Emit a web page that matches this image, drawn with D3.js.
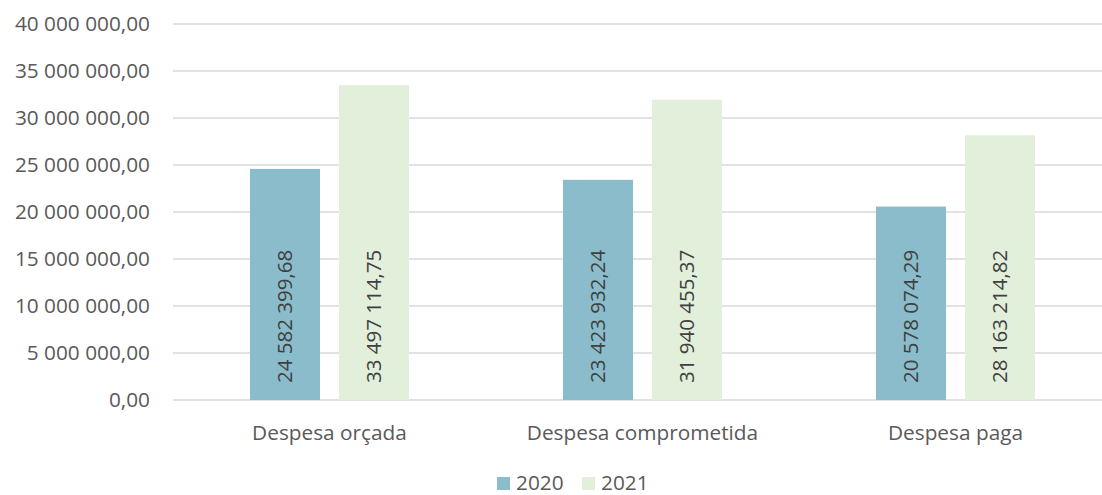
<!DOCTYPE html>
<html>
<head>
<meta charset="utf-8">
<script src="https://cdn.jsdelivr.net/npm/d3@7"></script>
<style>
  body { margin: 0; background: #fff; }
  text { font-family: "Open Sans", sans-serif; }
</style>
</head>
<body>
<div class="chart"></div>
<script>
// chart data
const categories = ["Despesa orçada", "Despesa comprometida", "Despesa paga"]
const years = ["2020", "2021"]
const values2020 = [24582399.68, 23423932.24, 20578074.29]
const values2021 = [33497114.75, 31940455.37, 28163214.82]
const yTicks = [0, 5e6, 10e6, 15e6, 20e6, 25e6, 30e6, 35e6, 40e6]
const colors = ["#8abccb", "#e2efda"]

const w = 1102
const h = 495

const svg = d3.select(".chart")
  .append("svg")
    .attr("width", w)
    .attr("height", h)

// number format "40 000 000,00"
const fmt = v => {
  const parts = v.toFixed(2).split(".")
  return parts[0].replace(/\B(?=(\d{3})+(?!\d))/g, " ") + "," + parts[1]
}

const x0 = d3.scaleBand()
  .domain(categories)
  .range([173, 1112])

const x1 = d3.scaleBand()
  .domain(years)
  .range([0, 159])
  .paddingInner(0.2135)

const y = d3.scaleLinear()
  .domain([0, 40e6])
  .range([400, 24])

// gridlines
svg.append("g")
  .selectAll("line")
  .data(yTicks)
  .join("line")
    .attr("x1", 173)
    .attr("x2", w)
    .attr("y1", d => y(d))
    .attr("y2", d => y(d))
    .attr("stroke", "#d9d9d9")
    .attr("stroke-width", 1.3)

// y labels
svg.append("g")
  .selectAll("text")
  .data(yTicks)
  .join("text")
    .attr("x", 150)
    .attr("y", d => y(d))
    .attr("dy", "0.35em")
    .attr("text-anchor", "end")
    .attr("font-size", 20.8)
    .attr("fill", "#595959")
    .text(d => fmt(d))

// bars
const rows = categories.map((c, i) => ({
  cat: c,
  vals: [
    { year: years[0], v: values2020[i] },
    { year: years[1], v: values2021[i] }
  ]
}))

const groups = svg.append("g")
  .selectAll("g")
  .data(rows)
  .join("g")
    .attr("transform", d => `translate(${x0(d.cat) + (x0.bandwidth() - 159) / 2},0)`)

groups.selectAll("rect")
  .data(d => d.vals)
  .join("rect")
    .attr("x", d => x1(d.year))
    .attr("y", d => y(d.v))
    .attr("width", x1.bandwidth())
    .attr("height", d => y(0) - y(d.v))
    .attr("fill", (d, i) => colors[i])

// value labels, rotated, inside base
groups.selectAll("text")
  .data(d => d.vals)
  .join("text")
    .attr("transform", d => `translate(${x1(d.year) + x1.bandwidth() / 2},${y(0) - 17}) rotate(-90)`)
    .attr("dy", "0.35em")
    .attr("text-anchor", "start")
    .attr("font-size", 20.5)
    .attr("fill", "#404040")
    .text(d => fmt(d.v))

// category labels
svg.append("g")
  .selectAll("text")
  .data(categories)
  .join("text")
    .attr("x", d => x0(d) + x0.bandwidth() / 2)
    .attr("y", 433)
    .attr("dy", "0.35em")
    .attr("text-anchor", "middle")
    .attr("font-size", 20.8)
    .attr("fill", "#595959")
    .text(d => d)

// legend
const legend = svg.append("g")
  .selectAll("g")
  .data(years)
  .join("g")
    .attr("transform", (d, i) => `translate(${497 + i * 85},483)`)

legend.append("rect")
  .attr("x", 0)
  .attr("y", -6)
  .attr("width", 13)
  .attr("height", 13)
  .attr("fill", (d, i) => colors[i])

legend.append("text")
  .attr("x", 19)
  .attr("y", 0)
  .attr("dy", "0.35em")
  .attr("font-size", 20.8)
  .attr("fill", "#595959")
  .text(d => d)
</script>
</body>
</html>
